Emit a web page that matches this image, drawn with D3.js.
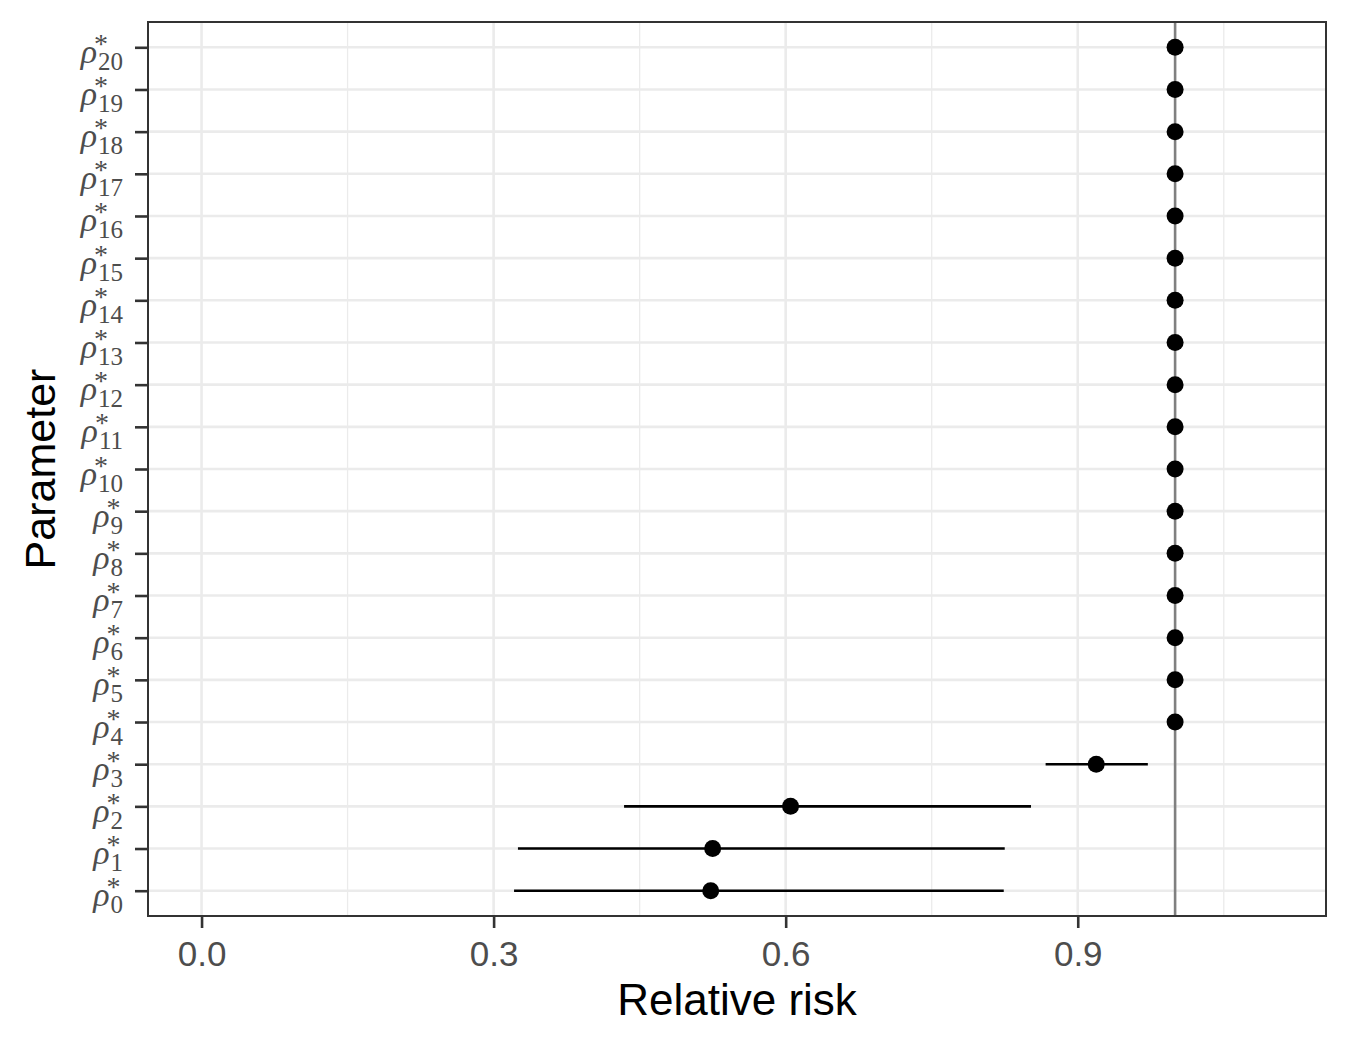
<!DOCTYPE html>
<html>
<head>
<meta charset="utf-8">
<script src="https://cdn.jsdelivr.net/npm/d3@7"></script>
<style>
  body { margin: 0; background: #fff; }
  svg { display: block; }
</style>
</head>
<body>
<div id="chart"></div>
<script>
// parameter index (rho*_k), estimate and interval
const params = d3.range(0, 21);
const estimate = [0.523, 0.525, 0.605, 0.919, 1, 1, 1, 1, 1, 1, 1, 1, 1, 1, 1, 1, 1, 1, 1, 1, 1];
const lower    = [0.321, 0.325, 0.434, 0.867, 1, 1, 1, 1, 1, 1, 1, 1, 1, 1, 1, 1, 1, 1, 1, 1, 1];
const upper    = [0.824, 0.825, 0.852, 0.972, 1, 1, 1, 1, 1, 1, 1, 1, 1, 1, 1, 1, 1, 1, 1, 1, 1];
const xTicks = [0, 0.3, 0.6, 0.9];
const xMinor = [0.15, 0.45, 0.75, 1.05];
const refLine = 1;

const W = 1350, H = 1050;
const margin = {top: 22, right: 24, bottom: 134, left: 148};
const width = W - margin.left - margin.right;
const height = H - margin.top - margin.bottom;

const svg = d3.select("#chart")
    .append("svg")
    .attr("width", W)
    .attr("height", H);

const g = svg.append("g")
    .attr("transform", `translate(${margin.left}, ${margin.top})`);

const x = d3.scaleLinear()
    .domain([-0.055, 1.155])
    .range([0, width]);

const y = d3.scalePoint()
    .domain(params)
    .range([height, 0])
    .padding(0.6);

// grid
g.selectAll(".minor-x").data(xMinor).enter().append("line")
    .attr("x1", d => x(d)).attr("x2", d => x(d))
    .attr("y1", 0).attr("y2", height)
    .attr("stroke", "#ebebeb").attr("stroke-width", 1.3);
g.selectAll(".major-x").data(xTicks).enter().append("line")
    .attr("x1", d => x(d)).attr("x2", d => x(d))
    .attr("y1", 0).attr("y2", height)
    .attr("stroke", "#ebebeb").attr("stroke-width", 2.6);
g.selectAll(".major-y").data(params).enter().append("line")
    .attr("x1", 0).attr("x2", width)
    .attr("y1", d => y(d)).attr("y2", d => y(d))
    .attr("stroke", "#ebebeb").attr("stroke-width", 2.6);

// reference line at 1
g.append("line")
    .attr("x1", x(refLine)).attr("x2", x(refLine))
    .attr("y1", 0).attr("y2", height)
    .attr("stroke", "#808080").attr("stroke-width", 2.6);

// intervals and points
g.selectAll(".ci").data(params).enter().append("line")
    .attr("x1", (d, i) => x(lower[i]))
    .attr("x2", (d, i) => x(upper[i]))
    .attr("y1", d => y(d)).attr("y2", d => y(d))
    .attr("stroke", "#000").attr("stroke-width", 2.6);
g.selectAll(".pt").data(params).enter().append("circle")
    .attr("cx", (d, i) => x(estimate[i]))
    .attr("cy", d => y(d))
    .attr("r", 8.5)
    .attr("fill", "#000");

// panel border
g.append("rect")
    .attr("width", width).attr("height", height)
    .attr("fill", "none").attr("stroke", "#333333").attr("stroke-width", 2);

// x axis
const xAxis = g.append("g")
    .attr("transform", `translate(0, ${height})`)
    .call(d3.axisBottom(x).tickValues(xTicks).tickFormat(d3.format(".1f")).tickSize(12));
xAxis.select(".domain").remove();
xAxis.selectAll(".tick line").attr("stroke", "#333333").attr("stroke-width", 2.6);
xAxis.selectAll(".tick text")
    .attr("y", 50).attr("dy", null)
    .attr("fill", "#4d4d4d")
    .style("font-family", "'Liberation Sans', Arial, sans-serif")
    .style("font-size", "35px");

// y axis with math-style labels
const yAxis = g.append("g")
    .call(d3.axisLeft(y).tickSize(13).tickFormat(""));
yAxis.select(".domain").remove();
yAxis.selectAll(".tick line").attr("stroke", "#333333").attr("stroke-width", 2.6);

yAxis.selectAll(".tick").each(function (d) {
    const t = d3.select(this);
    const right = -25;
    const label = t.append("text")
        .attr("x", right).attr("y", 15)
        .attr("text-anchor", "end")
        .attr("fill", "#4d4d4d")
        .style("font-family", "'Liberation Serif', serif");
    label.append("tspan")
        .style("font-style", "italic")
        .style("font-size", "34px")
        .text("ρ");
    label.append("tspan")
        .attr("dy", 7)
        .attr("dx", 1)
        .style("font-size", "25px")
        .text(d);
    const subW = label.node().getSubStringLength(1, String(d).length);
    t.append("text")
        .attr("x", right - subW - 4).attr("y", 5)
        .attr("text-anchor", "start")
        .attr("fill", "#4d4d4d")
        .style("font-family", "'Liberation Serif', serif")
        .style("font-size", "28px")
        .text("*");
});

// axis titles
svg.append("text")
    .attr("x", margin.left + width / 2)
    .attr("y", 1015)
    .attr("text-anchor", "middle")
    .style("font-family", "'Liberation Sans', Arial, sans-serif")
    .style("font-size", "44px")
    .text("Relative risk");

svg.append("text")
    .attr("transform", `translate(55, ${margin.top + height / 2}) rotate(-90)`)
    .attr("text-anchor", "middle")
    .style("font-family", "'Liberation Sans', Arial, sans-serif")
    .style("font-size", "43px")
    .text("Parameter");
</script>
</body>
</html>
